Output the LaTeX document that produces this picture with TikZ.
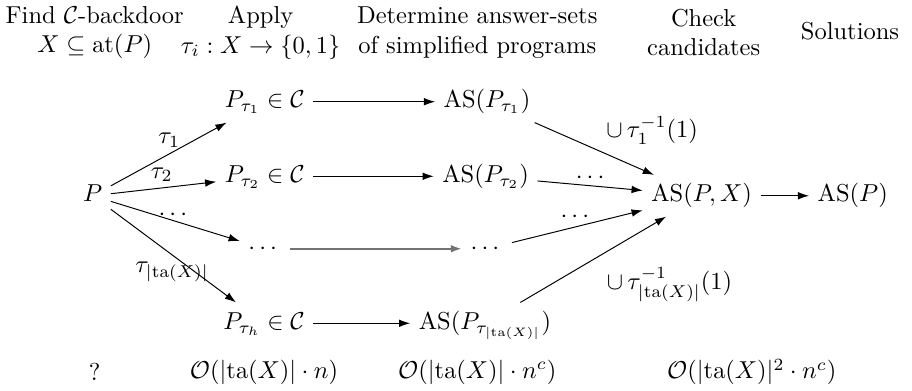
\documentclass[tikz,border=0pt]{standalone}
\usepackage{amsmath,amssymb}
\usetikzlibrary{arrows.meta}
\tikzset{
  prog/.style={inner sep=3.33pt, text height=7.5pt, text depth=2.5pt},
  hdr/.style={align=center, inner sep=1pt},
  elbl/.style={inner sep=1pt},
  cost/.style={inner sep=1pt},
  flow/.style={-{Latex[length=1.6mm, width=1.1mm]}, line width=0.4pt},
  flowfaint/.style={flow, black!55, line width=0.9pt},
}

\begin{document}
\begin{tikzpicture}
\useasboundingbox (0,0) rectangle (13.09,-5.60);
% header
\node[hdr] (hFind)  at (1.36, -0.47) {Find $\mathcal{C}$-backdoor\\ $X\subseteq \mathrm{at}(P)$};
\node[hdr] (hApply) at (3.74, -0.47) {Apply\\ $\tau_i : X\rightarrow\{0,1\}$};
\node[hdr] (hDet)   at (6.85, -0.47) {Determine answer-sets\\ of simplified programs};
\node[hdr] (hCheck) at (10.10,-0.47) {Check\\ candidates};
\node[hdr] (hSol)   at (12.20,-0.44) {Solutions};
% programs
\node[prog] (P)     at (1.33, -2.81) {$P$};
\node[prog] (Pt1)   at (3.80, -1.46) {$P_{\tau_1}\in\mathcal{C}$};
\node[prog] (Pt2)   at (3.80, -2.53) {$P_{\tau_2}\in\mathcal{C}$};
\node[prog] (Pdots) at (3.80, -3.57) {$\cdots$};
\node[prog] (Pth)   at (3.79, -4.64) {$P_{\tau_h}\in\mathcal{C}$};
% answer sets
\node[prog] (AS1)    at (6.99, -1.46) {$\mathrm{AS}(P_{\tau_1})$};
\node[prog] (AS2)    at (6.97, -2.53) {$\mathrm{AS}(P_{\tau_2})$};
\node[prog] (ASdots) at (6.99, -3.57) {$\cdots$};
\node[prog] (ASh)    at (6.96, -4.64) {$\mathrm{AS}(P_{\tau_{|\mathrm{ta}(X)|}})$};
\node[prog] (ASPX)   at (10.07,-2.81) {$\mathrm{AS}(P,X)$};
\node[prog] (ASP)    at (12.24,-2.81) {$\mathrm{AS}(P)$};

\foreach \t in {Pt1,Pt2,Pdots,Pth} {\draw[flow] (P) -- (\t);}
\draw[flow] (Pt1) -- (AS1);
\draw[flow] (Pt2) -- (AS2);
\draw[flowfaint] (Pdots) -- (ASdots);
\draw[flow] (Pth) -- (ASh);
\foreach \a in {AS1,AS2,ASdots,ASh} {\draw[flow] (\a) -- (ASPX);}
\draw[flow] (ASPX) -- (ASP);

% edge labels
\node[elbl] (lt1)  at (2.43,-2.01) {$\tau_1$};
\node[elbl] (lt2)  at (2.32,-2.51) {$\tau_2$};
\node[elbl] (ltd)  at (2.51,-3.09) {$\cdots$};
\node[elbl] (lth)  at (2.47,-3.90) {$\tau_{|\mathrm{ta}(X)|}$};
\node[elbl] (lu1)  at (9.36,-1.87) {$\cup\,\tau_1^{-1}(1)$};
\node[elbl] (lud1) at (8.50,-2.55) {$\cdots$};
\node[elbl] (lud2) at (8.28,-3.11) {$\cdots$};
\node[elbl] (luh)  at (9.61,-4.09) {$\cup\,\tau_{|\mathrm{ta}(X)|}^{-1}(1)$};

% costs
\node[cost] (c0) at (1.36, -5.34) {?};
\node[cost] (c1) at (3.79, -5.34) {$\mathcal{O}(|\mathrm{ta}(X)|\cdot n)$};
\node[cost] (c2) at (6.85, -5.34) {$\mathcal{O}(|\mathrm{ta}(X)|\cdot n^c)$};
\node[cost] (c3) at (10.79,-5.34) {$\mathcal{O}(|\mathrm{ta}(X)|^2\cdot n^c)$};
\end{tikzpicture}
\end{document}
